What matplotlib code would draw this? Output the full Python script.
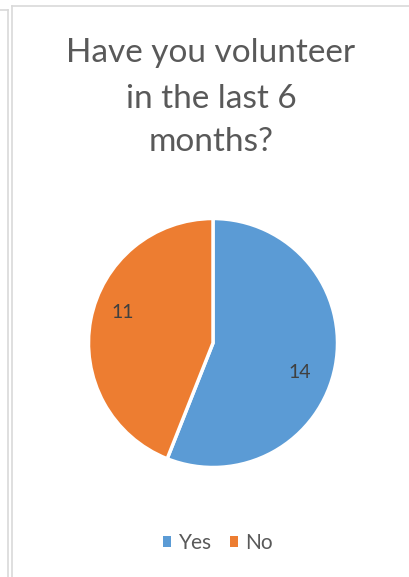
import matplotlib
matplotlib.use("Agg")
import matplotlib.pyplot as plt
from matplotlib.patches import Rectangle
from matplotlib.lines import Line2D

categories = ["Yes", "No"]
values = [14, 11]
colors = ["#5B9BD5", "#ED7D31"]
title_lines = ["Have you volunteer", "in the last 6", "months?"]

W, H = 409, 577
fig = plt.figure(figsize=(W / 100, H / 100), dpi=100)
fig.patch.set_facecolor("white")
plt.rcParams['font.family'] = ['Lato', 'DejaVu Sans']

def fx(x):
    return x / W

def fy(y):
    return 1 - y / H

# frame lines (chart border)
border = "#d9d9d9"
fig.add_artist(Line2D([fx(8), fx(8)], [0, fy(10)], color=border, lw=1.2, transform=fig.transFigure))
fig.add_artist(Line2D([0, fx(8)], [fy(10), fy(10)], color=border, lw=1.2, transform=fig.transFigure))
fig.add_artist(Line2D([fx(11.5), fx(11.5)], [0, fy(6)], color=border, lw=1.2, transform=fig.transFigure))
fig.add_artist(Line2D([fx(11.5), 1], [fy(6), fy(6)], color=border, lw=1.2, transform=fig.transFigure))

# pie axes
cx, cy, r = 213, 343, 124.5
ax = fig.add_axes([fx(cx - r), fy(cy + r), 2 * r / W, 2 * r / H])
wedges, _ = ax.pie(values, colors=colors, startangle=90, counterclock=False,
                   radius=1.0, wedgeprops=dict(edgecolor="white", linewidth=2.5))
ax.set_xlim(-1, 1)
ax.set_ylim(-1, 1)
ax.set_aspect("auto")
ax.axis("off")

# data labels
label_pos = [(300, 372), (123, 313)]
for (lx, ly), v in zip(label_pos, values):
    fig.text(fx(lx), fy(ly), str(v), ha="center", va="center",
             fontsize=14, color="#404040")

# title (one text per line, baselines measured)
baselines = [62, 108, 151]
for line, b in zip(title_lines, baselines):
    fig.text(fx(211), fy(b), line, ha="center", va="baseline",
             fontsize=24, color="#595959")

# legend
handles = [Rectangle((0, 0), 1, 1, facecolor=c, edgecolor="none") for c in colors]
fig.legend(handles, categories, loc="center", bbox_to_anchor=(fx(218), fy(543)),
           ncol=2, frameon=False, fontsize=15, handlelength=0.4, handleheight=0.4,
           handletextpad=0.35, columnspacing=0.85, labelcolor="#595959",
           borderpad=0, borderaxespad=0)

fig.savefig("out.png", dpi=100)
